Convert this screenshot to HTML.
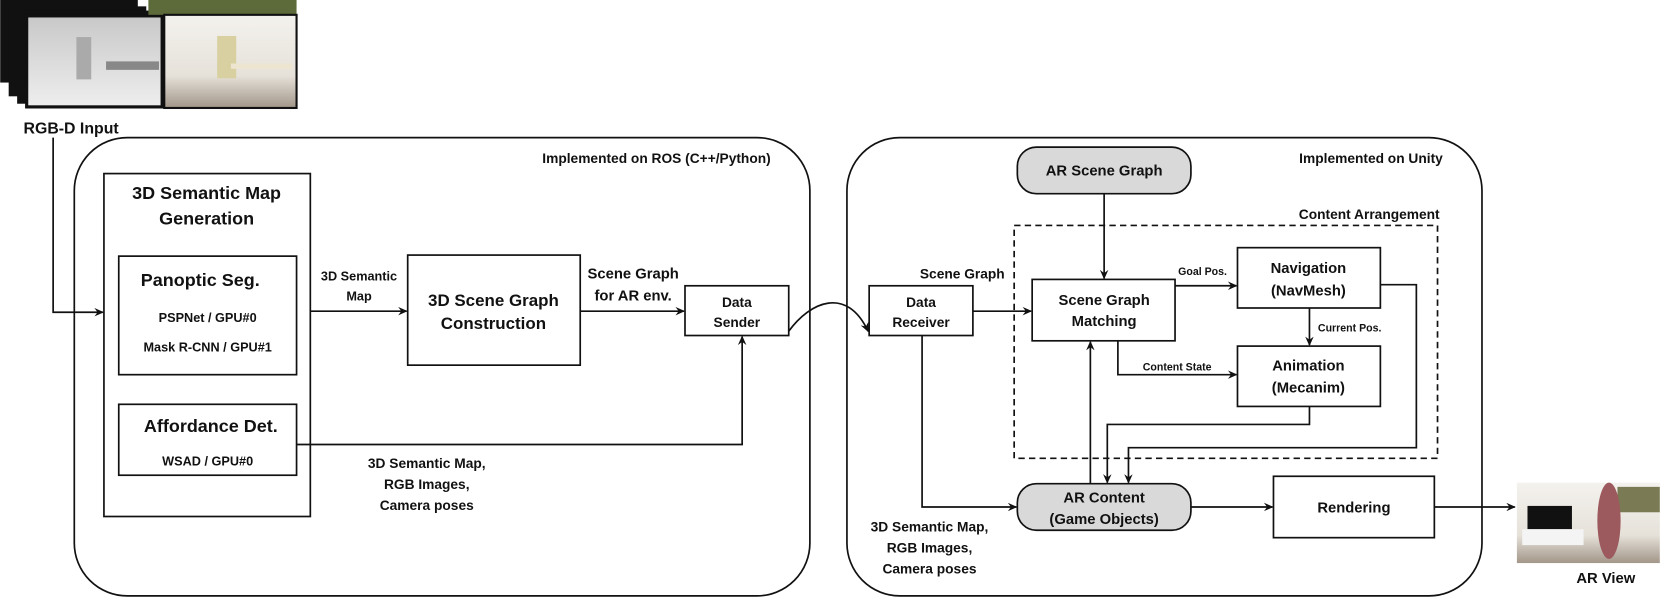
<!DOCTYPE html>
<html><head><meta charset="utf-8"><style>
html,body{margin:0;padding:0;background:#fff;}
svg{display:block;}
text{font-family:"Liberation Sans",sans-serif;font-weight:bold;fill:#111;}
</style></head><body>
<svg width="1660" height="598" viewBox="0 0 1568 565" xmlns="http://www.w3.org/2000/svg">
<defs>
<marker id="a" markerWidth="10" markerHeight="10" refX="8" refY="4" orient="auto" markerUnits="userSpaceOnUse">
<path d="M0,0 L9,4 L0,8 L3,4 Z" fill="#111"/></marker>
<linearGradient id="dep" x1="0" y1="0" x2="0" y2="1"><stop offset="0" stop-color="#c8c8c8"/><stop offset="1" stop-color="#eee"/></linearGradient>
<linearGradient id="room" x1="0" y1="0" x2="0" y2="1"><stop offset="0" stop-color="#f4f2ee"/><stop offset="0.65" stop-color="#e6e2da"/><stop offset="1" stop-color="#a39689"/></linearGradient>
</defs>
<g fill="none" stroke="#111" stroke-width="1.6">
<rect x="0" y="0" width="130" height="78" fill="#111" stroke="none"/>
<rect x="8" y="6" width="130" height="85" fill="#111" stroke="none"/>
<rect x="16" y="10" width="130" height="88" fill="#111" stroke="none"/>
<rect x="25" y="15" width="128" height="86" fill="url(#dep)" stroke="#111" stroke-width="3"/>
<rect x="140" y="0" width="140" height="14" fill="#5d6b3a" stroke="none"/>
<rect x="155" y="14" width="125" height="88" fill="url(#room)" stroke="#111" stroke-width="2"/>
<rect x="205" y="34" width="18" height="40" fill="#d8d0a0" stroke="none"/>
<rect x="218" y="60" width="58" height="5" fill="#eee5d0" stroke="none"/>
<rect x="72" y="35" width="14" height="40" fill="#aaa" stroke="none"/>
<rect x="100" y="58" width="50" height="8" fill="#888" stroke="none"/>
<!-- AR view image -->
<rect x="1433" y="456" width="135" height="76" fill="url(#room)" stroke="none"/>
<rect x="1443" y="478" width="42" height="22" fill="#111" stroke="none"/>
<rect x="1438" y="500" width="58" height="15" fill="#f4f4f4" stroke="none"/>
<rect x="1528" y="460" width="40" height="24" fill="#7a7a55" stroke="none"/>
<ellipse cx="1520" cy="492" rx="11" ry="36" fill="#9c5a5e" stroke="none"/>
<rect x="70" y="130" width="695" height="433" rx="50"/>
<rect x="800" y="130" width="600" height="433" rx="50"/>
<rect x="958" y="213" width="400" height="220" stroke-dasharray="6,4"/>
<rect x="98" y="164" width="195" height="324"/>
<rect x="112" y="242" width="168" height="112"/>
<rect x="112" y="382" width="168" height="67"/>
<rect x="385" y="241" width="163" height="104"/>
<rect x="647" y="270" width="98" height="47"/>
<rect x="821" y="270" width="98" height="47"/>
<rect x="961" y="139" width="164" height="44" rx="18" fill="#d9d9d9"/>
<rect x="975" y="264" width="135" height="58"/>
<rect x="1169" y="234" width="135" height="57"/>
<rect x="1169" y="327" width="135" height="57"/>
<rect x="961" y="457" width="164" height="44" rx="18" fill="#d9d9d9"/>
<rect x="1203" y="450" width="152" height="58"/>
<polyline points="50,130 50,295 97,295" marker-end="url(#a)"/>
<line x1="293" y1="294" x2="384" y2="294" marker-end="url(#a)"/>
<line x1="548" y1="294" x2="646" y2="294" marker-end="url(#a)"/>
<polyline points="280,420 701,420 701,318" marker-end="url(#a)"/>
<path d="M745,313 C765,285 800,270 820,313" marker-end="url(#a)"/>
<line x1="919" y1="294" x2="974" y2="294" marker-end="url(#a)"/>
<line x1="1043" y1="183" x2="1043" y2="263" marker-end="url(#a)"/>
<line x1="1110" y1="270" x2="1168" y2="270" marker-end="url(#a)"/>
<line x1="1237" y1="291" x2="1237" y2="326" marker-end="url(#a)"/>
<polyline points="1056,322 1056,354 1168,354" marker-end="url(#a)"/>
<polyline points="871,317 871,479 960,479" marker-end="url(#a)"/>
<line x1="1030" y1="457" x2="1030" y2="323" marker-end="url(#a)"/>
<polyline points="1237,384 1237,401 1046,401 1046,456" marker-end="url(#a)"/>
<polyline points="1304,269 1338,269 1338,423 1066,423 1066,456" marker-end="url(#a)"/>
<line x1="1125" y1="479" x2="1202" y2="479" marker-end="url(#a)"/>
<line x1="1355" y1="479" x2="1431" y2="479" marker-end="url(#a)"/>
</g>
<g text-anchor="middle">
<text x="67" y="126" font-size="15">RGB-D Input</text>
<text x="1517" y="551" font-size="14">AR View</text>
<text x="195" y="188" font-size="17">3D Semantic Map</text>
<text x="195" y="212" font-size="17">Generation</text>
<text x="189" y="270" font-size="17">Panoptic Seg.</text>
<text x="196" y="304" font-size="12">PSPNet / GPU#0</text>
<text x="196" y="332" font-size="12">Mask R-CNN / GPU#1</text>
<text x="199" y="408" font-size="17">Affordance Det.</text>
<text x="196" y="440" font-size="12">WSAD / GPU#0</text>
<text x="339" y="265" font-size="12">3D Semantic</text>
<text x="339" y="284" font-size="12">Map</text>
<text x="466" y="289" font-size="16">3D Scene Graph</text>
<text x="466" y="311" font-size="16">Construction</text>
<text x="598" y="263" font-size="14">Scene Graph</text>
<text x="598" y="284" font-size="14">for AR env.</text>
<text x="696" y="290" font-size="13">Data</text>
<text x="696" y="309" font-size="13">Sender</text>
<text x="403" y="442" font-size="13">3D Semantic Map,</text>
<text x="403" y="462" font-size="13">RGB Images,</text>
<text x="403" y="482" font-size="13">Camera poses</text>
<text x="870" y="290" font-size="13">Data</text>
<text x="870" y="309" font-size="13">Receiver</text>
<text x="909" y="263" font-size="13">Scene Graph</text>
<text x="1043" y="166" font-size="14">AR Scene Graph</text>
<text x="1043" y="288" font-size="14">Scene Graph</text>
<text x="1043" y="308" font-size="14">Matching</text>
<text x="1236" y="258" font-size="14">Navigation</text>
<text x="1236" y="279" font-size="14">(NavMesh)</text>
<text x="1236" y="350" font-size="14">Animation</text>
<text x="1236" y="371" font-size="14">(Mecanim)</text>
<text x="1136" y="260" font-size="10">Goal Pos.</text>
<text x="1275" y="313" font-size="10">Current Pos.</text>
<text x="1112" y="350" font-size="10">Content State</text>
<text x="1043" y="475" font-size="14">AR Content</text>
<text x="1043" y="495" font-size="14">(Game Objects)</text>
<text x="1279" y="484" font-size="14">Rendering</text>
<text x="878" y="502" font-size="13">3D Semantic Map,</text>
<text x="878" y="522" font-size="13">RGB Images,</text>
<text x="878" y="542" font-size="13">Camera poses</text>
</g>
<g text-anchor="end">
<text x="728" y="154" font-size="13">Implemented on ROS (C++/Python)</text>
<text x="1363" y="154" font-size="13">Implemented on Unity</text>
<text x="1360" y="207" font-size="13">Content Arrangement</text>
</g>
</svg>
</body></html>
